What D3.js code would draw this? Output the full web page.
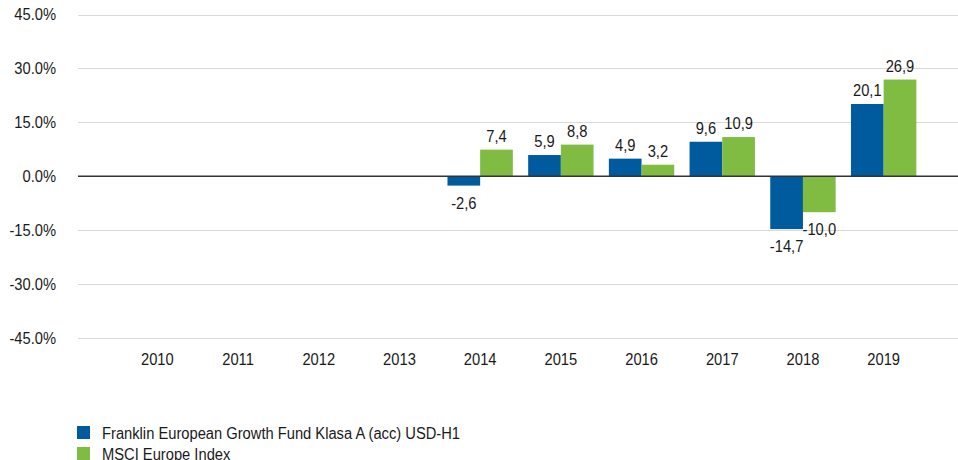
<!DOCTYPE html>
<html>
<head>
<meta charset="utf-8">
<script src="https://cdn.jsdelivr.net/npm/d3@7/dist/d3.min.js"></script>
<style>
  html, body { margin: 0; padding: 0; background: #fff; }
  svg { display: block; font-family: "Liberation Sans", Arial, sans-serif; }
</style>
</head>
<body>
<svg id="chart" width="958" height="460"></svg>
<script>
const years = ["2010","2011","2012","2013","2014","2015","2016","2017","2018","2019"];
const fundValues = [null, null, null, null, -2.6, 5.9, 4.9, 9.6, -14.7, 20.1];
const indexValues = [null, null, null, null, 7.4, 8.8, 3.2, 10.9, -10.0, 26.9];
const seriesNames = ["Franklin European Growth Fund Klasa A (acc) USD-H1", "MSCI Europe Index"];
const seriesColors = ["#005A9E", "#7FBC41"];
const yTicks = [-45, -30, -15, 0, 15, 30, 45];

const FS = 16, SX = 0.92;
const svg = d3.select("#chart");
const plotLeft = 78, plotRight = 958;

const y = d3.scaleLinear().domain([-45, 45]).range([338, 14.5]);
const x = d3.scaleBand().domain(years).range([117, 924]).paddingInner(0.19).paddingOuter(0.095);
const xs = d3.scaleBand().domain([0, 1]).range([0, x.bandwidth()]);

// place text with slight horizontal condensing
function placeText(sel, px, py) {
  sel.attr("x", 0).attr("y", 0)
     .attr("transform", (d, i, n) => `translate(${px(d, i, n)},${py(d, i, n)}) scale(${SX},1)`)
     .attr("font-size", FS + "px").attr("fill", "#1a1a1a");
}

// gridlines
svg.append("g").selectAll("line").data(yTicks.filter(d => d !== 0)).join("line")
  .attr("x1", plotLeft).attr("x2", plotRight)
  .attr("y1", d => Math.round(y(d)) + 0.5).attr("y2", d => Math.round(y(d)) + 0.5)
  .attr("stroke", "#d9d9d9").attr("stroke-width", 1);

// y axis labels
const yAxis = d3.axisLeft(y).tickValues(yTicks)
  .tickFormat(d => d3.format(".1f")(d).replace("−", "-") + "%").tickSize(0).tickPadding(0);
const gy = svg.append("g").call(yAxis);
gy.select(".domain").remove();
gy.selectAll(".tick").attr("transform", null);
placeText(gy.selectAll("text").attr("text-anchor", "end").attr("dy", "0.36em"), () => 56, d => y(d));

// x axis labels
const xAxis = d3.axisBottom(x).tickSize(0).tickPadding(0);
const gx = svg.append("g").call(xAxis);
gx.select(".domain").remove();
gx.selectAll(".tick").attr("transform", null);
placeText(gx.selectAll("text").attr("text-anchor", "middle").attr("dy", null), d => x(d) + x.bandwidth() / 2, () => 365);

// bars
const data = [];
years.forEach((yr, i) => {
  [fundValues[i], indexValues[i]].forEach((v, s) => {
    if (v !== null) data.push({ yr, s, v });
  });
});

svg.append("g").selectAll("rect").data(data).join("rect")
  .attr("x", d => x(d.yr) + xs(d.s))
  .attr("width", xs.bandwidth())
  .attr("y", d => y(Math.max(0, d.v)))
  .attr("height", d => Math.abs(y(d.v) - y(0)))
  .attr("fill", d => seriesColors[d.s]);

// zero line
svg.append("line").attr("x1", plotLeft).attr("x2", plotRight)
  .attr("y1", y(0)).attr("y2", y(0)).attr("stroke", "#333").attr("stroke-width", 1.3);

// value labels
const fmt = v => d3.format(".1f")(v).replace(".", ",").replace("−", "-");
placeText(
  svg.append("g").selectAll("text").data(data).join("text")
    .attr("text-anchor", "middle").text(d => fmt(d.v)),
  d => x(d.yr) + xs(d.s) + xs.bandwidth() / 2,
  d => d.v >= 0 ? y(d.v) - 8 : y(d.v) + 23
);

// legend
const lg = svg.append("g").attr("transform", "translate(77,426)");
seriesNames.forEach((n, i) => {
  const row = lg.append("g").attr("transform", `translate(0,${i * 21})`);
  row.append("rect").attr("width", 13).attr("height", 13).attr("fill", seriesColors[i]);
  placeText(row.append("text").datum(n).text(n), () => 25, () => 13);
});
</script>
</body>
</html>
